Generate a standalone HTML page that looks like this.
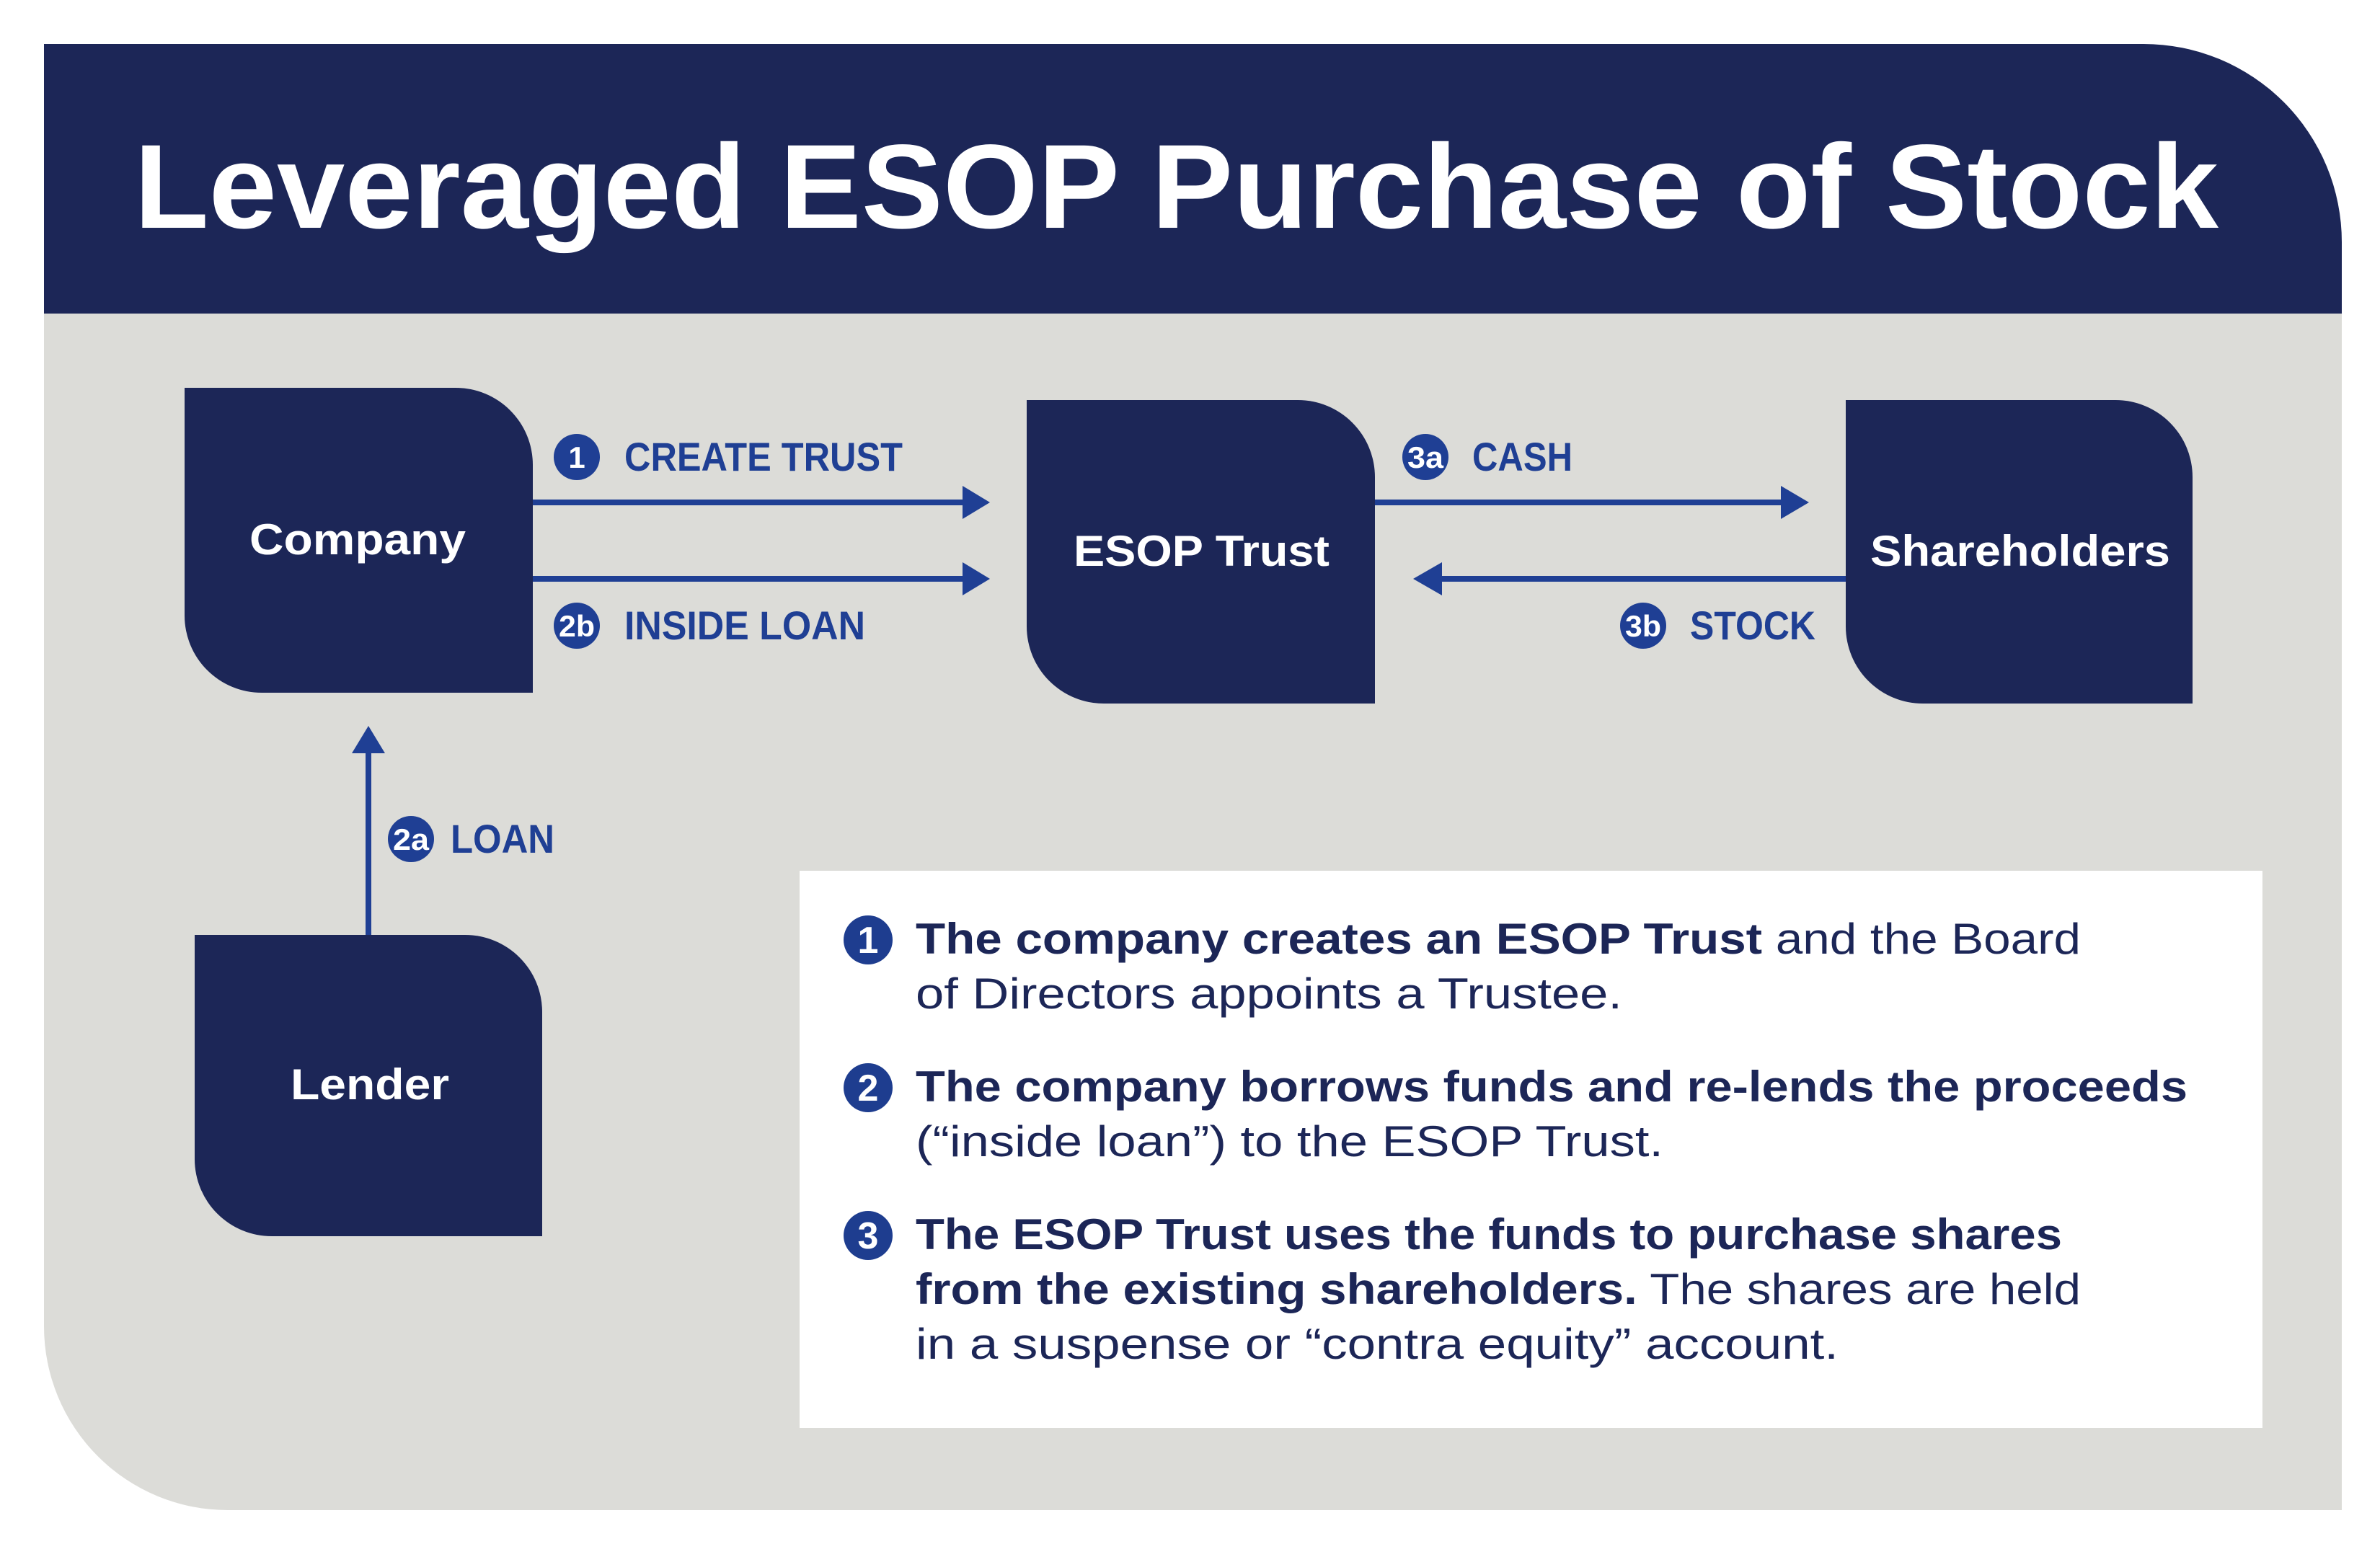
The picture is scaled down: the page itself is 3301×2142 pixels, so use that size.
<!DOCTYPE html>
<html><head><meta charset="utf-8"><style>html,body{margin:0;padding:0;background:#fff}svg{display:block}</style></head>
<body>
<svg width="3301" height="2142" viewBox="0 0 3301 2142" xmlns="http://www.w3.org/2000/svg" font-family="'Liberation Sans', sans-serif">
<path d="M61 435 H3248 V2095 H316 A255 255 0 0 1 61 1840 Z" fill="#dcdcd8"/>
<path d="M61 61 H2973 A275 275 0 0 1 3248 336 V435 H61 Z" fill="#1c2657"/>
<text x="186" y="316" font-size="166" font-weight="bold" fill="#fff" textLength="2891" lengthAdjust="spacingAndGlyphs">Leveraged ESOP Purchase of Stock</text>

<g fill="#1c2657">
<path d="M256 538 H632 A107 107 0 0 1 739 645 V961 H363 A107 107 0 0 1 256 854 Z"/>
<path d="M1424 555 H1800 A107 107 0 0 1 1907 662 V976 H1531 A107 107 0 0 1 1424 869 Z"/>
<path d="M2560 555 H2934 A107 107 0 0 1 3041 662 V976 H2667 A107 107 0 0 1 2560 869 Z"/>
<path d="M270 1297 H645 A107 107 0 0 1 752 1404 V1715 H377 A107 107 0 0 1 270 1608 Z"/>
</g>
<g fill="#fff" font-weight="bold" font-size="60">
<text x="346" y="769" textLength="300" lengthAdjust="spacingAndGlyphs">Company</text>
<text x="1489" y="785" textLength="355" lengthAdjust="spacingAndGlyphs">ESOP Trust</text>
<text x="2594" y="785" textLength="416" lengthAdjust="spacingAndGlyphs">Shareholders</text>
<text x="403" y="1525" textLength="220" lengthAdjust="spacingAndGlyphs">Lender</text>
</g>

<g stroke="#1f3f94" stroke-width="8">
<line x1="739" y1="697" x2="1340" y2="697"/>
<line x1="739" y1="803" x2="1340" y2="803"/>
<line x1="1907" y1="697" x2="2475" y2="697"/>
<line x1="2560" y1="803" x2="1995" y2="803"/>
<line x1="511" y1="1297" x2="511" y2="1040"/>
</g>
<g fill="#1f3f94">
<polygon points="1335,674 1373,697 1335,720"/>
<polygon points="1335,780 1373,803 1335,826"/>
<polygon points="2470,674 2509,697 2470,720"/>
<polygon points="2000,780 1960,803 2000,826"/>
<polygon points="488,1045 511,1007 534,1045"/>
<circle cx="800" cy="634" r="32"/>
<circle cx="800" cy="868" r="32"/>
<circle cx="1977" cy="634" r="32"/>
<circle cx="2279" cy="868" r="32"/>
<circle cx="570" cy="1164" r="32"/>
</g>
<g fill="#fff" font-weight="bold" font-size="42" text-anchor="middle">
<text x="800" y="649">1</text>
<text x="800" y="883" textLength="50" lengthAdjust="spacingAndGlyphs">2b</text>
<text x="1977" y="649" textLength="50" lengthAdjust="spacingAndGlyphs">3a</text>
<text x="2279" y="883" textLength="50" lengthAdjust="spacingAndGlyphs">3b</text>
<text x="570" y="1179" textLength="50" lengthAdjust="spacingAndGlyphs">2a</text>
</g>
<g fill="#1f3f94" font-weight="bold" font-size="56">
<text x="866" y="653" textLength="386" lengthAdjust="spacingAndGlyphs">CREATE TRUST</text>
<text x="866" y="887" textLength="334" lengthAdjust="spacingAndGlyphs">INSIDE LOAN</text>
<text x="2042" y="653" textLength="139" lengthAdjust="spacingAndGlyphs">CASH</text>
<text x="2344" y="887" textLength="174" lengthAdjust="spacingAndGlyphs">STOCK</text>
<text x="625" y="1183" textLength="144" lengthAdjust="spacingAndGlyphs">LOAN</text>
</g>

<rect x="1109" y="1208" width="2029" height="773" fill="#fff"/>
<g fill="#1e3d8f">
<circle cx="1204" cy="1304" r="34"/>
<circle cx="1204" cy="1509" r="34"/>
<circle cx="1204" cy="1714" r="34"/>
</g>
<g fill="#fff" font-weight="bold" font-size="52" text-anchor="middle">
<text x="1204" y="1322">1</text>
<text x="1204" y="1527">2</text>
<text x="1204" y="1732">3</text>
</g>
<g fill="#1c2657" font-size="60">
<text x="1270" y="1323" textLength="1616" lengthAdjust="spacingAndGlyphs"><tspan font-weight="bold">The company creates an ESOP Trust</tspan> and the Board</text>
<text x="1270" y="1399" textLength="980" lengthAdjust="spacingAndGlyphs">of Directors appoints a Trustee.</text>
<text x="1270" y="1528" font-weight="bold" textLength="1764" lengthAdjust="spacingAndGlyphs">The company borrows funds and re-lends the proceeds</text>
<text x="1270" y="1604" textLength="1037" lengthAdjust="spacingAndGlyphs">(“inside loan”) to the ESOP Trust.</text>
<text x="1270" y="1733" font-weight="bold" textLength="1590" lengthAdjust="spacingAndGlyphs">The ESOP Trust uses the funds to purchase shares</text>
<text x="1270" y="1809" textLength="1616" lengthAdjust="spacingAndGlyphs"><tspan font-weight="bold">from the existing shareholders.</tspan> The shares are held</text>
<text x="1270" y="1885" textLength="1280" lengthAdjust="spacingAndGlyphs">in a suspense or “contra equity” account.</text>
</g>
</svg>
</body></html>
